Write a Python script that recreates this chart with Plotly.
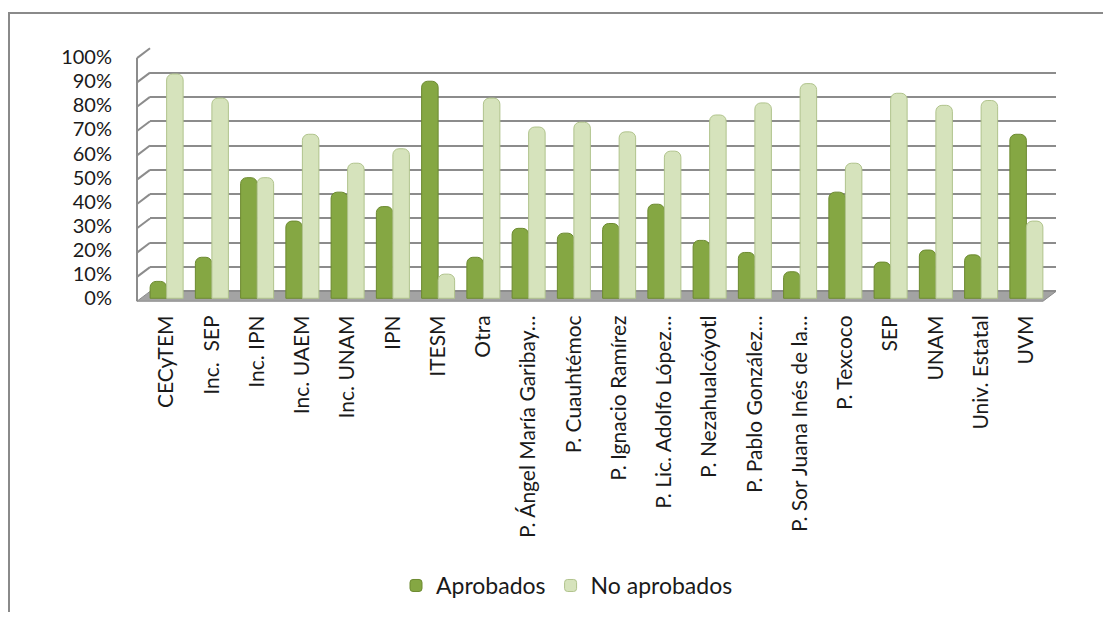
import plotly.graph_objects as go

# data
escuelas = ["CECyTEM", "Inc.  SEP", "Inc. IPN", "Inc. UAEM", "Inc. UNAM", "IPN", "ITESM", "Otra",
            "P. Ángel María Garibay…", "P. Cuauhtémoc", "P. Ignacio Ramírez", "P. Lic. Adolfo López…",
            "P. Nezahualcóyotl", "P. Pablo González…", "P. Sor Juana Inés de la…", "P. Texcoco",
            "SEP", "UNAM", "Univ. Estatal", "UVM"]
aprobados = [0.07, 0.17, 0.50, 0.32, 0.44, 0.38, 0.90, 0.17, 0.29, 0.27, 0.31, 0.39,
             0.24, 0.19, 0.11, 0.44, 0.15, 0.20, 0.18, 0.68]
no_aprobados = [0.93, 0.83, 0.50, 0.68, 0.56, 0.62, 0.10, 0.83, 0.71, 0.73, 0.69, 0.61,
                0.76, 0.81, 0.89, 0.56, 0.85, 0.80, 0.82, 0.32]

# the page puts the figure 8px in from each side, so keep it inside the window
OFF = 8
W, H = 1111 - 2 * OFF, 628 - 2 * OFF
FONT = "Lato"


def fx(p):
    return (p - OFF) / W


def fy(p):
    return 1 - (p - OFF) / H


# screen pixel layout of the fake 3d box
back_left, back_right = 150, 1056
front_left, front_right = 137, 1043
back_top, back_zero = 45, 293
front_zero = 303
step = (back_zero - back_top) / 10

fig = go.Figure()
# empty trace so the back wall subplot gets drawn
fig.add_trace(go.Scatter(x=[None], y=[None], showlegend=False, hoverinfo="skip"))
fig.add_trace(go.Bar(x=escuelas, y=aprobados, name="Aprobados", xaxis="x2", yaxis="y2",
                     marker=dict(color="#85A743", line=dict(color="#6C8A30", width=1))))
fig.add_trace(go.Bar(x=escuelas, y=no_aprobados, name="No aprobados", xaxis="x2", yaxis="y2",
                     marker=dict(color="#D6E3BC", line=dict(color="#B0C38C", width=1))))

shapes = []
# floor
shapes.append(dict(type="path", xref="paper", yref="paper", layer="below",
                   path=f"M {fx(back_left)},{fy(back_zero)} L {fx(back_right)},{fy(back_zero)} "
                        f"L {fx(front_right)},{fy(front_zero)} L {fx(front_left)},{fy(front_zero)} Z",
                   fillcolor="#A3A3A3", line=dict(color="#8C8C8C", width=1)))
# side wall
shapes.append(dict(type="line", xref="paper", yref="paper", layer="below",
                   x0=fx(front_left), x1=fx(front_left), y0=fy(front_zero), y1=fy(front_zero - 10 * step),
                   line=dict(color="#8C8C8C", width=2)))
for k in range(1, 11):
    shapes.append(dict(type="line", xref="paper", yref="paper", layer="below",
                       x0=fx(front_left), x1=fx(back_left),
                       y0=fy(front_zero - k * step), y1=fy(back_zero - k * step),
                       line=dict(color="#8C8C8C", width=2)))
# outer frame (top and left edges, the rest is cut off)
shapes.append(dict(type="line", xref="paper", yref="paper", x0=fx(8), x1=1, y0=fy(9), y1=fy(9),
                   line=dict(color="#8A8A8A", width=2)))
shapes.append(dict(type="line", xref="paper", yref="paper", x0=fx(9), x1=fx(9), y0=0, y1=fy(9),
                   line=dict(color="#8A8A8A", width=2)))

ydom = [fy(front_zero), fy(back_top)]

fig.update_layout(
    width=W, height=H,
    margin=dict(l=0, r=0, t=0, b=0),
    paper_bgcolor="white", plot_bgcolor="rgba(0,0,0,0)",
    barmode="group", bargap=0.27, bargroupgap=0, barcornerradius=6,
    font=dict(family=FONT, color="#1a1a1a"),
    shapes=shapes,
    # back wall grid
    xaxis=dict(domain=[fx(back_left), fx(back_right)], visible=False, range=[0, 1]),
    yaxis=dict(domain=ydom, range=[-(front_zero - back_zero) / (10 * step), 1.0], dtick=0.1,
               showgrid=True, gridcolor="#8C8C8C", gridwidth=2, zeroline=False,
               showticklabels=False, ticks=""),
    # bars, labels
    xaxis2=dict(domain=[fx(144), fx(1049)], anchor="y2", tickangle=-90, showgrid=False,
                showline=False, ticks="", ticklabelstandoff=9,
                tickfont=dict(size=21, family=FONT, color="#1a1a1a")),
    yaxis2=dict(domain=ydom, anchor="x2", range=[-3 / 246, 1 + 9 / 246], dtick=0.1, tickformat=".0%",
                showgrid=False, zeroline=False, showline=False, ticks="",
                ticklabelstandoff=31, tickfont=dict(size=20, family=FONT, color="#1a1a1a")),
    legend=dict(orientation="h", x=fx(567), xanchor="center", y=fy(593), yanchor="middle",
                font=dict(size=23, family=FONT, color="#1a1a1a"), itemwidth=30,
                traceorder="normal"),
)

fig.write_html("out.html")
